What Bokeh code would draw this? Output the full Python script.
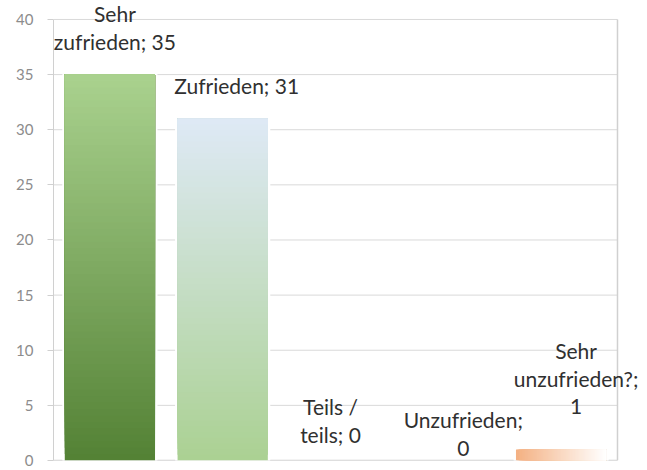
from bokeh.plotting import figure
from bokeh.models import Range1d, Label, FixedTicker, ColumnDataSource
from bokeh.embed import file_html
from bokeh.resources import INLINE

# ---- data ----
categories = ["Sehr zufrieden", "Zufrieden", "Teils / teils", "Unzufrieden", "Sehr unzufrieden?"]
values = [35, 31, 0, 0, 1]
label_texts = ["Sehr\nzufrieden; 35", "Zufrieden; 31", "Teils /\nteils; 0", "Unzufrieden;\n0", "Sehr\nunzufrieden?;\n1"]
y_ticks = [0, 5, 10, 15, 20, 25, 30, 35, 40]

# ---- style ----
grad_colors = [
    ("#548235", "#a9d18e", "v"),   # bottom -> top
    ("#abd193", "#dee9f5", "v"),
    ("#f4b183", "#ffffff", "h"),
    ("#f4b183", "#ffffff", "h"),
    ("#f4b183", "#ffffff", "h"),   # left -> right
]
label_offsets = [(5, 21), (14, 21), (-5, 14), (15, 1), (15, 31)]
BAR_W = 0.8
N = 60
FONT = "Lato"
LINE_COL = "#d9d9d9"

ncat = len(categories)
ymax = y_ticks[-1]

def lerp_hex(c1, c2, t):
    a = [int(c1[i:i + 2], 16) for i in (1, 3, 5)]
    b = [int(c2[i:i + 2], 16) for i in (1, 3, 5)]
    return "#%02x%02x%02x" % tuple(round(a[k] + (b[k] - a[k]) * t) for k in range(3))

p = figure(width=640, height=468, output_backend="svg", toolbar_location=None,
           x_range=Range1d(0, ncat + 0.204), y_range=Range1d(0, ymax * 1.043),
           min_border_left=53, min_border_right=0, min_border_top=0, min_border_bottom=8)

p.xaxis.visible = False
p.grid.visible = False
p.outline_line_color = None
p.yaxis.ticker = FixedTicker(ticks=y_ticks)
p.yaxis.bounds = (0, ymax)
p.yaxis.axis_line_color = "#d0d0d0"
p.yaxis.major_tick_line_color = "#d0d0d0"
p.yaxis.major_tick_out = 6
p.yaxis.major_tick_in = 0
p.yaxis.minor_tick_line_color = None
p.yaxis.major_label_text_font = FONT
p.yaxis.major_label_text_font_size = "15px"
p.yaxis.major_label_text_color = "#8c8c8c"
p.yaxis.major_label_standoff = 14
p.background_fill_color = "white"
p.border_fill_color = "white"

# gridlines and frame (right + bottom border)
p.segment(x0=[0] * len(y_ticks), x1=[ncat] * len(y_ticks), y0=y_ticks, y1=y_ticks,
          line_color=LINE_COL, line_width=1)
p.segment(x0=[ncat], x1=[ncat], y0=[0], y1=[ymax], line_color="#d0d0d0", line_width=1.5)
p.segment(x0=[0], x1=[ncat], y0=[0], y1=[0], line_color="#d0d0d0", line_width=1.5)

# bars with gradient built from stacked quads
for i, v in enumerate(values):
    if v <= 0:
        continue
    c1, c2, d = grad_colors[i]
    left = i + 0.5 - BAR_W / 2
    right = i + 0.5 + BAR_W / 2
    p.quad(left=[left], right=[right], bottom=[0], top=[v], fill_color="white",
           line_color="white", line_width=5)
    lefts, rights, bottoms, tops, cols = [], [], [], [], []
    for k in range(N):
        t = k / (N - 1)
        if d == "v":
            lefts.append(left); rights.append(right)
            bottoms.append(v * k / N); tops.append(v)
        else:
            lefts.append(left + (right - left) * k / N); rights.append(right)
            bottoms.append(0); tops.append(v)
        cols.append(lerp_hex(c1, c2, t))
    src = ColumnDataSource(dict(left=lefts, right=rights, bottom=bottoms, top=tops, color=cols))
    p.quad(left="left", right="right", bottom="bottom", top="top", fill_color="color",
           line_color=None, source=src)

# data labels
for i, (txt, v) in enumerate(zip(label_texts, values)):
    dx, dy = label_offsets[i]
    p.add_layout(Label(x=i + 0.5, y=v, text=txt, x_offset=dx, y_offset=dy,
                       text_align="center", text_baseline="bottom",
                       text_font=FONT, text_font_size="21px", text_color="#303030",
                       text_line_height=1.1))

open("out.html", "w").write(file_html(p, INLINE))
